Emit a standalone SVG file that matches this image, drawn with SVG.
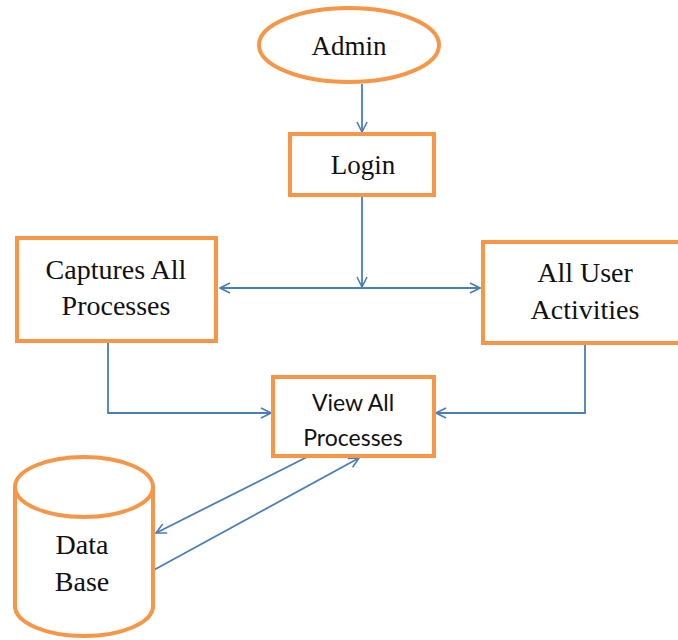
<svg xmlns="http://www.w3.org/2000/svg" width="678" height="640" viewBox="0 0 678 640">
<defs>
<marker id="arr" viewBox="0 0 12 12" refX="11" refY="6" markerWidth="12" markerHeight="12" markerUnits="userSpaceOnUse" orient="auto-start-reverse">
<path d="M1,1 L11,6 L1,11" fill="none" stroke="#4A7EBB" stroke-width="1.6"/>
</marker>
</defs>
<rect width="678" height="640" fill="#fff"/>
<g id="connectors" fill="none" stroke="#4A7EBB" stroke-width="1.8" marker-end="url(#arr)">
<path d="M362,84 L362,132"/>
<path d="M362,197 L362,287"/>
<path d="M362,288 L220,288"/>
<path d="M362,288 L480,288"/>
<path d="M108,342 L108,413 L271,413"/>
<path d="M585,344 L585,413 L436,413"/>
<path d="M307,457 L156,533"/>
<path d="M152,571 L359,458"/>
</g>
<g fill="#fff" stroke="#F79646" stroke-width="4">
<g id="admin">
<ellipse cx="349" cy="45" rx="90" ry="37"/>
<text x="349" y="55" font-family="Liberation Serif" font-size="27" text-anchor="middle" fill="#111" stroke="none">Admin</text>
</g>
<g id="login">
<rect x="290" y="134" width="144" height="61"/>
<text x="363" y="174" font-family="Liberation Serif" font-size="27" text-anchor="middle" fill="#111" stroke="none">Login</text>
</g>
<g id="captures">
<rect x="17" y="238" width="199" height="103"/>
<text x="116" y="279" font-family="Liberation Serif" font-size="28" text-anchor="middle" fill="#111" stroke="none">Captures All</text>
<text x="116" y="315" font-family="Liberation Serif" font-size="28" text-anchor="middle" fill="#111" stroke="none">Processes</text>
</g>
<g id="activities">
<rect x="483" y="242" width="200" height="101"/>
<text x="585" y="282" font-family="Liberation Serif" font-size="28" text-anchor="middle" fill="#111" stroke="none">All User</text>
<text x="585" y="319" font-family="Liberation Serif" font-size="28" text-anchor="middle" fill="#111" stroke="none">Activities</text>
</g>
<g id="view">
<rect x="273" y="377" width="161" height="79"/>
<text x="353" y="411" font-family="Lato" font-size="23" text-anchor="middle" fill="#111" stroke="none">View All</text>
<text x="353" y="446" font-family="Lato" font-size="23" text-anchor="middle" fill="#111" stroke="none">Processes</text>
</g>
<g id="database">
<path d="M15,487 L15,606 A69,30 0 0 0 153,606 L153,487"/>
<ellipse cx="84" cy="487" rx="69" ry="30"/>
<text x="82" y="554" font-family="Liberation Serif" font-size="28" text-anchor="middle" fill="#111" stroke="none">Data</text>
<text x="82" y="591" font-family="Liberation Serif" font-size="28" text-anchor="middle" fill="#111" stroke="none">Base</text>
</g>
</g>
</svg>
